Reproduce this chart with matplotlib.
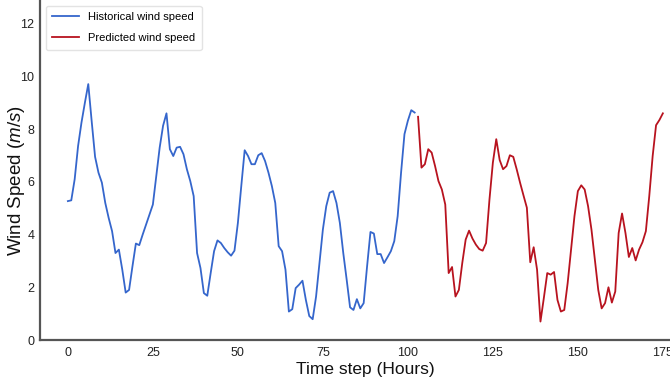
import matplotlib.pyplot as plt
import numpy as np

# hourly wind speed (m/s)
hist_speed = [5.27, 5.3, 6.1, 7.36, 8.25, 9.0, 9.71, 8.3, 6.95, 6.35,
              5.97, 5.2, 4.63, 4.13, 3.3, 3.43, 2.67, 1.8, 1.9, 2.8,
              3.66, 3.6, 4.0, 4.38, 4.76, 5.14, 6.22, 7.3, 8.13, 8.6,
              7.24, 6.98, 7.3, 7.33, 7.05, 6.48, 6.03, 5.46, 3.3, 2.73,
              1.78, 1.68, 2.54, 3.37, 3.78, 3.68, 3.49, 3.33, 3.2, 3.39,
              4.44, 5.84, 7.2, 6.98, 6.67, 6.67, 7.01, 7.09, 6.79, 6.35,
              5.84, 5.2, 3.56, 3.37, 2.67, 1.08, 1.17, 1.97, 2.1, 2.25,
              1.52, 0.91, 0.79, 1.65, 2.92, 4.19, 5.08, 5.59, 5.65, 5.2,
              4.44, 3.3, 2.29, 1.24, 1.14, 1.55, 1.2, 1.4, 2.79, 4.1,
              4.04, 3.26, 3.26, 2.92, 3.14, 3.37, 3.75, 4.7, 6.35, 7.81,
              8.32, 8.72, 8.63]
pred_speed = [8.47, 6.54, 6.67, 7.24, 7.11, 6.6, 6.03, 5.71, 5.14, 2.54,
              2.77, 1.65, 1.9, 2.92, 3.81, 4.15, 3.85, 3.62, 3.45, 3.39,
              3.68, 5.33, 6.73, 7.62, 6.83, 6.48, 6.6, 7.01, 6.95, 6.48,
              5.97, 5.49, 5.02, 2.95, 3.52, 2.67, 0.7, 1.6, 2.54, 2.48,
              2.58, 1.52, 1.08, 1.14, 2.16, 3.43, 4.7, 5.65, 5.87, 5.71,
              5.08, 4.19, 3.05, 1.9, 1.2, 1.4, 2.0, 1.42, 1.84, 4.06,
              4.8, 4.06, 3.15, 3.49, 3.02, 3.43, 3.71, 4.13, 5.46, 6.98,
              8.15, 8.35, 8.6]
hist_hours = np.arange(len(hist_speed))
pred_hours = np.arange(len(hist_speed), len(hist_speed) + len(pred_speed))
xticks = [0, 25, 50, 75, 100, 125, 150, 175]
yticks = [0, 2, 4, 6, 8, 10, 12]

plt.rcParams['font.family'] = ['Liberation Sans', 'DejaVu Sans']
plt.rcParams['mathtext.fontset'] = 'custom'
plt.rcParams['mathtext.it'] = 'Liberation Sans:italic'
plt.rcParams['mathtext.rm'] = 'Liberation Sans'

fig = plt.figure(figsize=(6.7, 3.87), dpi=100)
ax = fig.add_axes([0.0597, 0.1214, 0.9403, 0.8786])

ax.plot(hist_hours, hist_speed, color='#3566cc', lw=1.3, label='Historical wind speed')
ax.plot(pred_hours, pred_speed, color='#b8131f', lw=1.3, label='Predicted wind speed')

ax.set_xlim(-8.2, 177.1)
ax.set_ylim(0, 12.9)
ax.set_xticks(xticks)
ax.set_yticks(yticks)
ax.tick_params(length=0, labelsize=9, colors='#222222')
ax.tick_params(axis='x', pad=5)
ax.tick_params(axis='y', pad=4)

for side in ['top', 'right']:
    ax.spines[side].set_visible(False)
for side in ['left', 'bottom']:
    ax.spines[side].set_color('#555555')
    ax.spines[side].set_linewidth(1.6)

ax.set_xlabel('Time step (Hours)', fontsize=12.5, color='#111111')
ax.xaxis.set_label_coords(0.517, -0.066)
ax.set_ylabel('Wind Speed ($m/s$)', fontsize=13.5, color='#111111')
ax.yaxis.set_label_coords(-0.021, 0.47)

leg = ax.legend(loc='upper left', bbox_to_anchor=(0.0, 1.0), fontsize=8,
                frameon=True, fancybox=True, handlelength=2.4, labelspacing=1.0,
                borderpad=0.6, borderaxespad=0.5)
leg.get_frame().set_edgecolor('#dddddd')

fig.savefig('out.png', dpi=100)
